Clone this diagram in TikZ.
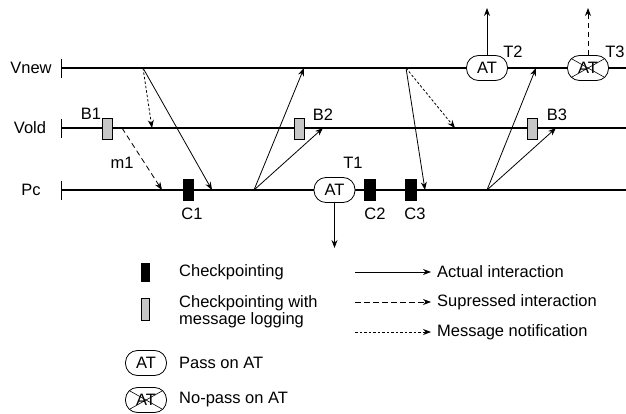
\documentclass[tikz,border=0pt]{standalone}
\usepackage{fontspec}
\setmainfont{Liberation Sans}
\usetikzlibrary{arrows.meta}
\begin{document}
\begin{tikzpicture}[x=1pt,y=-1pt,
  every node/.style={font=\fontsize{16.5}{17.5}\selectfont, inner sep=0pt},
  tl/.style={line width=2pt},
  tick/.style={line width=1pt},
  act/.style={line width=0.8pt,-{Stealth[length=8pt,width=6pt]}},
  sup/.style={line width=0.8pt,dash pattern=on 5.5pt off 3.5pt,-{Stealth[length=8pt,width=6pt]}},
  note/.style={line width=0.8pt,dash pattern=on 2.5pt off 2pt,-{Stealth[length=8pt,width=6pt]}},
  cpblack/.style={draw=black,fill=black,line width=0.6pt,minimum width=10pt,minimum height=21pt},
  cpgray/.style={draw=black,fill=black!22,line width=0.6pt,minimum width=10pt,minimum height=21pt},
  atnode/.style={draw,fill=white,line width=0.8pt,rounded corners=12pt,minimum width=41pt,minimum height=25pt},
  xline/.style={line width=0.6pt},
  lbl/.style={anchor=center}
]
\useasboundingbox (0,0) rectangle (626,414);

% timelines
\coordinate (vnS) at (61.5,68);  \coordinate (vnE) at (626,68);
\coordinate (voS) at (61.5,128);   \coordinate (voE) at (626,128);
\coordinate (pcS) at (61.5,190);   \coordinate (pcE) at (626,190);
\draw[tl] (vnS) -- (vnE);
\draw[tl] (voS) -- (voE);
\draw[tl] (pcS) -- (pcE);
\draw[tick] ([yshift=-10pt]vnS) -- ([yshift=9pt]vnS);
\draw[tick] ([yshift=-10pt]voS) -- ([yshift=9pt]voS);
\draw[tick] ([yshift=-10pt]pcS) -- ([yshift=9pt]pcS);

\node[lbl] (lvnew) at (31,68) {Vnew};
\node[lbl] (lvold) at (30,128) {Vold};
\node[lbl] (lpc) at (31,190) {Pc};

% interaction points
\coordinate (a1) at (143,68);
\coordinate (a2) at (152,128);
\coordinate (a3) at (212,190);
\coordinate (m1s) at (122,128);
\coordinate (m1e) at (162,190);
\coordinate (b1) at (254,190);
\coordinate (b2) at (304,68);
\coordinate (b3) at (323,128);
\coordinate (c1) at (406,68);
\coordinate (c2) at (425,190);
\coordinate (c3) at (455,128);
\coordinate (d1) at (487,190);
\coordinate (d2) at (536,68);
\coordinate (d3) at (556,128);

\draw[note] (a1) -- (a2);
\draw[act] (a1) -- (a3);
\draw[sup] (m1s) -- (m1e);
\draw[act] (b1) -- (b2);
\draw[act] (b1) -- (b3);
\draw[act] (c1) -- (c2);
\draw[note] (c1) -- (c3);
\draw[act] (d1) -- (d2);
\draw[act] (d1) -- (d3);

% checkpoints
\node[cpgray] (B1) at (107,128.5) {};
\node[cpgray] (B2) at (299,128.5) {};
\node[cpgray] (B3) at (532,128.5) {};
\node[cpblack] (C1) at (188,189.5) {};
\node[cpblack,minimum width=11pt] (C2) at (370,189.5) {};
\node[cpblack,minimum width=11pt] (C3) at (410.5,189.5) {};

\node[lbl] (lB1) at (91,114) {B1};
\node[lbl] (lm1) at (122,163) {m1};
\node[lbl] (lB2) at (323,115) {B2};
\node[lbl] (lB3) at (557,115) {B3};
\node[lbl] (lC1) at (192,214) {C1};
\node[lbl] (lC2) at (375,214) {C2};
\node[lbl] (lC3) at (415,214) {C3};

% acceptance tests
\node[atnode] (T1) at (334.5,190) {AT};
\node[atnode] (T2) at (487,68) {AT};
\node[atnode] (T3) at (588,68) {AT};
\draw[xline] ([shift={(-16,-9)}]T3.center) -- ([shift={(16,9)}]T3.center);
\draw[xline] ([shift={(-16,9)}]T3.center) -- ([shift={(16,-9)}]T3.center);
\node[lbl] (lT1) at (353,163) {T1};
\node[lbl] (lT2) at (513,52) {T2};
\node[lbl] (lT3) at (615,52) {T3};

\coordinate (t1e) at (334.5,248);
\coordinate (t2e) at (487,8);
\coordinate (t3e) at (588,8);
\draw[act] (T1.south) -- (t1e);
\draw[act] (T2.north) -- (t2e);
\draw[sup] (T3.north) -- (t3e);

% legend
\node[cpblack,minimum width=8pt,minimum height=18pt] (k1) at (145.5,272) {};
\node[cpgray,minimum width=8pt,minimum height=22pt] (k2) at (145.5,309.5) {};
\node[atnode] (k3) at (146,363) {AT};
\node[atnode] (k4) at (146,400) {AT};
\draw[xline] ([shift={(-16,-9)}]k4.center) -- ([shift={(16,9)}]k4.center);
\draw[xline] ([shift={(-16,9)}]k4.center) -- ([shift={(16,-9)}]k4.center);

\node[anchor=west] (k1t) at (179,272) {Checkpointing};
\node[anchor=west,align=left] (k2t) at (179,311.5) {Checkpointing with\\[-1pt]message logging};
\node[anchor=west] (k3t) at (179,363) {Pass on AT};
\node[anchor=west] (k4t) at (179,400) {No-pass on AT};

\coordinate (l1s) at (355,272); \coordinate (l1e) at (431,272);
\coordinate (l2s) at (355,302); \coordinate (l2e) at (431,302);
\coordinate (l3s) at (355,332); \coordinate (l3e) at (431,332);
\draw[act] (l1s) -- (l1e);
\draw[sup] (l2s) -- (l2e);
\draw[note] (l3s) -- (l3e);
\node[anchor=west] (l1t) at (437,272) {Actual interaction};
\node[anchor=west] (l2t) at (437,302) {Supressed interaction};
\node[anchor=west] (l3t) at (437,332) {Message notification};
\end{tikzpicture}
\end{document}
